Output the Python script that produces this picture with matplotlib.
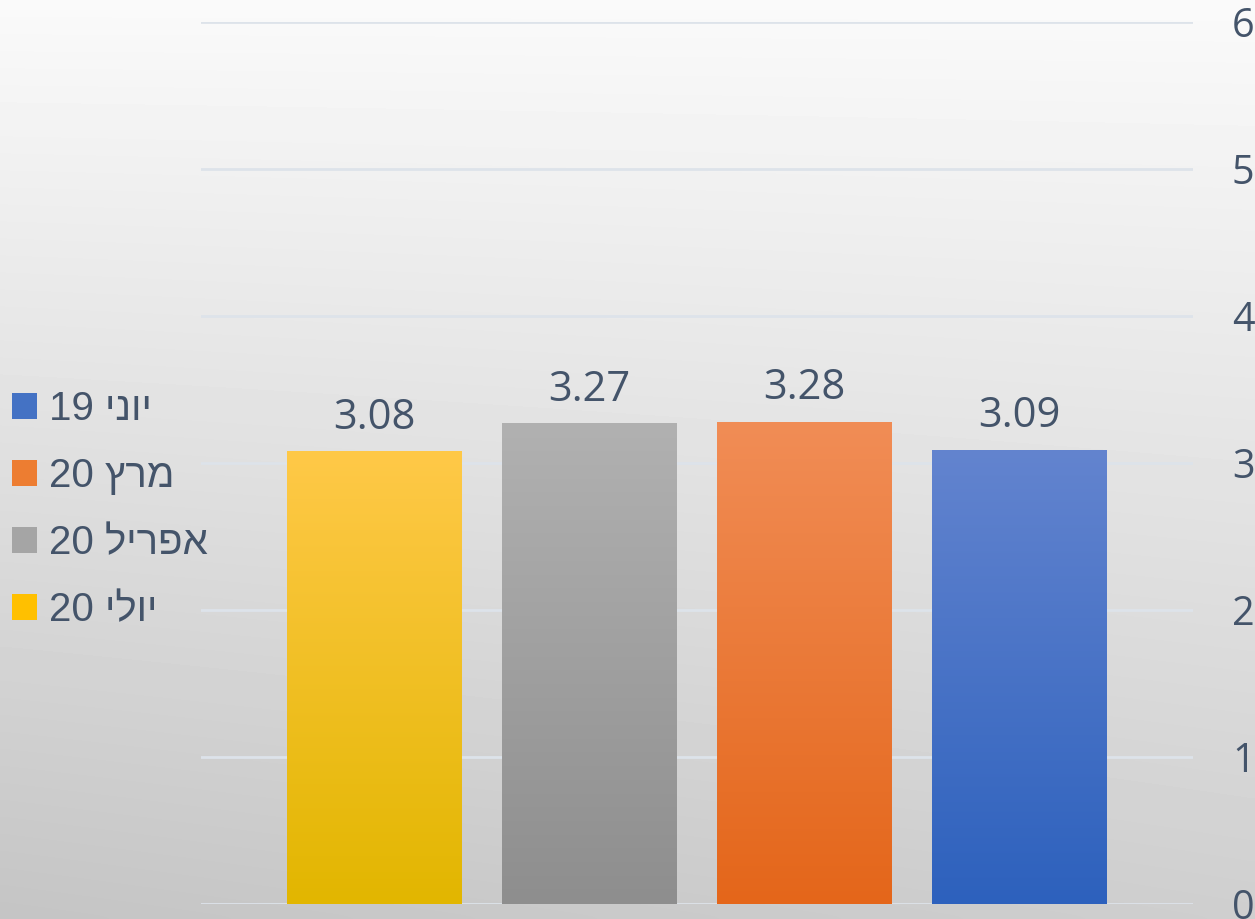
import numpy as np
import matplotlib.pyplot as plt
from matplotlib.patches import Patch
from matplotlib.colors import LinearSegmentedColormap

# data (logical order, right to left on the chart)
categories = ['יוני 19', 'מרץ 20', 'אפריל 20', 'יולי 20']
values = [3.09, 3.28, 3.27, 3.08]
top_colors = ['#6384CF', '#F18D56', '#B1B1B1', '#FFC948']
bottom_colors = ['#2D61BD', '#E4661A', '#8E8E8E', '#E2B600']
mid_colors = ['#4472C4', '#ED7D31', '#A5A5A5', '#FFC000']
yticks = [0, 1, 2, 3, 4, 5, 6]

text_color = '#44546A'


def rtl(s):
    # matplotlib has no bidi support, so build the visual order by hand
    return ' '.join(w if w.isdigit() else w[::-1] for w in s.split()[::-1])


fig = plt.figure(figsize=(12.55, 9.19), dpi=100)

# background gradient
bg = fig.add_axes([0, 0, 1, 1], zorder=-10)
yy, xx = np.mgrid[0:1:200j, 0:1:200j]
shade = 0.98 - yy * (0.17 + 0.04 * (1 - xx))
bg.imshow(shade, cmap='gray', vmin=0, vmax=1, aspect='auto',
          extent=[0, 1, 0, 1], origin='upper', interpolation='bicubic')
bg.axis('off')

ax = fig.add_axes([201 / 1255, 15 / 919, 992 / 1255, 882 / 919])
ax.patch.set_alpha(0)

x = np.arange(len(categories))
bars = ax.bar(x, values, width=0.81, color=mid_colors, zorder=3)

for b, c_top, c_bot in zip(bars, top_colors, bottom_colors):
    cmap = LinearSegmentedColormap.from_list('g', [c_bot, c_top])
    x0, y0 = b.get_x(), b.get_y()
    w, h = b.get_width(), b.get_height()
    grad = np.linspace(1, 0, 256).reshape(-1, 1)
    im = ax.imshow(grad, cmap=cmap, aspect='auto', extent=[x0, x0 + w, y0, y0 + h],
                   zorder=4, interpolation='bicubic')
    im.set_clip_path(b)

ax.bar_label(bars, labels=[f'{v:.2f}' for v in values], padding=9,
             fontsize=30, color=text_color, family='Open Sans', zorder=5)

ax.set_xlim(3.805, -0.81)
ax.set_ylim(0, 6)
ax.set_yticks(yticks)
ax.yaxis.tick_right()
ax.tick_params(axis='y', length=0, pad=28, labelsize=28.5, labelcolor=text_color)
for lab in ax.get_yticklabels():
    lab.set_family('Open Sans')
ax.set_xticks([])
ax.grid(axis='y', color='#DDE3EA', linewidth=2, zorder=1)
for s in ax.spines.values():
    s.set_visible(False)

handles = [Patch(facecolor=c) for c in mid_colors]
leg = fig.legend(handles, [rtl(c) for c in categories], loc='center left',
                 bbox_to_anchor=(0.0, 0.4455), frameon=False,
                 prop={'family': 'Liberation Sans', 'size': 29},
                 handlelength=0.62, handleheight=0.62, handletextpad=0.3,
                 labelspacing=0.72, borderaxespad=0.2, borderpad=0.1)
for t in leg.get_texts():
    t.set_color(text_color)

fig.savefig('out.png', dpi=100)
